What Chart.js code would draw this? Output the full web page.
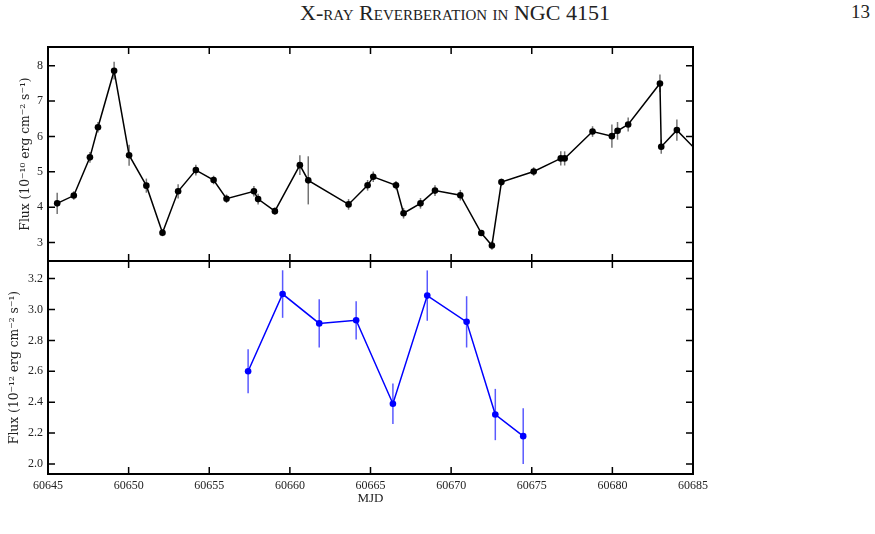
<!DOCTYPE html>
<html>
<head>
<meta charset="utf-8">
<script src="https://cdn.jsdelivr.net/npm/chart.js@4.4.1/dist/chart.umd.min.js"></script>
<style>
  body { margin: 0; background: #fff; }
  #page { position: relative; width: 875px; height: 534px; overflow: hidden; font-family: "Liberation Serif", serif; }
  #head { position: absolute; top: 0px; left: 0; width: 910px; text-align: center; font-size: 22px; font-variant: small-caps; color: #222; }
  #pnum { position: absolute; top: 1px; right: 5px; font-size: 19px; color: #222; }
  canvas { position: absolute; left: 0; }
</style>
</head>
<body>
<div id="page">
  <div id="head">X-ray Reverberation in NGC 4151</div>
  <div id="pnum">13</div>
  <canvas id="topChart" width="875" height="270" style="top:0"></canvas>
  <canvas id="botChart" width="875" height="284" style="top:250px"></canvas>
</div>
<script>
// Données (MJD, flux, erreur)
const xTicks = [60645, 60650, 60655, 60660, 60665, 60670, 60675, 60680, 60685];

const topMjd = [60645.57, 60646.6, 60647.6, 60648.1, 60649.1, 60650.03, 60651.1, 60652.1, 60653.07, 60654.17,
  60655.27, 60656.07, 60657.77, 60658.03, 60659.07, 60660.62, 60661.14, 60663.64, 60664.82, 60665.17,
  60666.58, 60667.05, 60668.1, 60669.0, 60670.57, 60671.87, 60672.53, 60673.12, 60675.12, 60676.8,
  60677.04, 60678.77, 60679.97, 60680.32, 60680.98, 60682.95, 60683.03, 60684.0, 60685.6];
const topFlux = [4.11, 4.33, 5.41, 6.26, 7.86, 5.47, 4.61, 3.28, 4.45, 5.05,
  4.77, 4.24, 4.45, 4.23, 3.89, 5.19, 4.76, 4.08, 4.62, 4.86,
  4.62, 3.83, 4.11, 4.47, 4.34, 3.27, 2.92, 4.71, 5.01, 5.38,
  5.38, 6.14, 6.01, 6.16, 6.34, 7.50, 5.71, 6.18, 5.43];
const topErr = [0.3, 0.12, 0.15, 0.15, 0.25, 0.3, 0.2, 0.1, 0.2, 0.15,
  0.12, 0.12, 0.15, 0.15, 0.1, 0.28, 0.68, 0.15, 0.15, 0.15,
  0.12, 0.15, 0.15, 0.15, 0.15, 0.08, 0.12, 0.1, 0.12, 0.2,
  0.2, 0.15, 0.33, 0.25, 0.2, 0.25, 0.2, 0.3, 0.2];
const topTicks = [3, 4, 5, 6, 7, 8];

const botMjd = [60657.41, 60659.55, 60661.82, 60664.11, 60666.39, 60668.52, 60670.96, 60672.74, 60674.47];
const botFlux = [2.60, 3.10, 2.91, 2.93, 2.39, 3.09, 2.92, 2.32, 2.18];
const botErr = [0.142, 0.154, 0.156, 0.124, 0.131, 0.163, 0.166, 0.166, 0.18];
const botTicks = [2.0, 2.2, 2.4, 2.6, 2.8, 3.0, 3.2];

const serif = '"Liberation Serif", serif';
const titleSerif = '"DejaVu Serif", serif';

// Barres d'erreur verticales + cadre avec graduations vers l'intérieur
const errorBars = {
  id: 'errorBars',
  beforeDatasetsDraw(chart, args, opts) {
    const { ctx, chartArea: a, scales: { x, y } } = chart;
    ctx.save();
    ctx.beginPath();
    ctx.rect(a.left, a.top, a.right - a.left, a.bottom - a.top);
    ctx.clip();
    ctx.strokeStyle = opts.color;
    ctx.lineWidth = 1.5;
    opts.xs.forEach((v, i) => {
      const px = x.getPixelForValue(v);
      ctx.beginPath();
      ctx.moveTo(px, y.getPixelForValue(opts.ys[i] - opts.err[i]));
      ctx.lineTo(px, y.getPixelForValue(opts.ys[i] + opts.err[i]));
      ctx.stroke();
    });
    ctx.restore();
  }
};

const frame = {
  id: 'frame',
  afterDraw(chart, args, opts) {
    const { ctx, chartArea: a, scales: { x, y } } = chart;
    const t = 7;
    ctx.save();
    ctx.strokeStyle = '#000';
    ctx.lineWidth = 2;
    ctx.strokeRect(a.left, a.top, a.right - a.left, a.bottom - a.top);
    ctx.lineWidth = 1.5;
    ctx.beginPath();
    xTicks.forEach(v => {
      const px = x.getPixelForValue(v);
      if (px <= a.left + 1 || px >= a.right - 1) return;
      ctx.moveTo(px, a.top); ctx.lineTo(px, a.top + t);
      ctx.moveTo(px, a.bottom); ctx.lineTo(px, a.bottom - t);
    });
    opts.yTicks.forEach(v => {
      const py = y.getPixelForValue(v);
      ctx.moveTo(a.left, py); ctx.lineTo(a.left + t, py);
      ctx.moveTo(a.right, py); ctx.lineTo(a.right - t, py);
    });
    ctx.stroke();
    ctx.restore();
  }
};

function makeChart(id, xs, ys, err, color, barColor, cfg) {
  return new Chart(document.getElementById(id), {
    type: 'line',
    data: {
      datasets: [{
        data: xs.map((v, i) => ({ x: v, y: ys[i] })),
        borderColor: color,
        backgroundColor: color,
        borderWidth: 1.5,
        pointRadius: 3.3,
        pointBorderWidth: 0,
        tension: 0
      }]
    },
    options: {
      responsive: false,
      animation: false,
      layout: { padding: cfg.padding },
      plugins: {
        legend: { display: false },
        tooltip: { enabled: false },
        errorBars: { xs, ys, err, color: barColor },
        frame: { yTicks: cfg.yTicks }
      },
      scales: {
        x: {
          type: 'linear', min: 60645, max: 60685,
          display: cfg.showX,
          grid: { display: false, drawTicks: false }, border: { display: false },
          afterBuildTicks: s => { s.ticks = xTicks.map(v => ({ value: v })); },
          afterFit: s => { s.height = cfg.showX ? 36 : 0; s.paddingLeft = 0; s.paddingRight = 0; },
          ticks: { color: '#222', padding: 5, font: { family: serif, size: 12 }, callback: v => String(v) },
          title: { display: true, text: 'MJD', color: '#222', padding: { top: 0, bottom: 4 }, font: { family: serif, size: 13 } }
        },
        y: {
          min: cfg.yMin, max: cfg.yMax,
          grid: { display: false, drawTicks: false }, border: { display: false },
          afterBuildTicks: s => { s.ticks = cfg.yTicks.map(v => ({ value: v })); },
          afterFit: s => { s.width = 48; s.paddingTop = 0; s.paddingBottom = 0; },
          ticks: { color: '#222', padding: 5, font: { family: serif, size: 12 }, callback: cfg.fmt },
          title: { display: true, text: cfg.yTitle, color: '#222', padding: { top: cfg.titlePad, bottom: 0 }, font: { family: titleSerif, size: 12.3 } }
        }
      }
    },
    plugins: [errorBars, frame]
  });
}

makeChart('topChart', topMjd, topFlux, topErr, '#000', 'rgba(0,0,0,0.55)', {
  padding: { top: 47, right: 182, bottom: 9, left: 0 },
  showX: false, yMin: 2.48, yMax: 8.53, yTicks: topTicks,
  fmt: v => String(v), titlePad: 18,
  yTitle: 'Flux (10⁻¹⁰ erg cm⁻² s⁻¹)'
});

makeChart('botChart', botMjd, botFlux, botErr, '#0000ff', 'rgba(0,0,255,0.65)', {
  padding: { top: 11, right: 182, bottom: 24, left: 0 },
  showX: true, yMin: 1.935, yMax: 3.314, yTicks: botTicks,
  fmt: v => v.toFixed(1), titlePad: 7,
  yTitle: 'Flux (10⁻¹² erg cm⁻² s⁻¹)'
});
</script>
</body>
</html>
